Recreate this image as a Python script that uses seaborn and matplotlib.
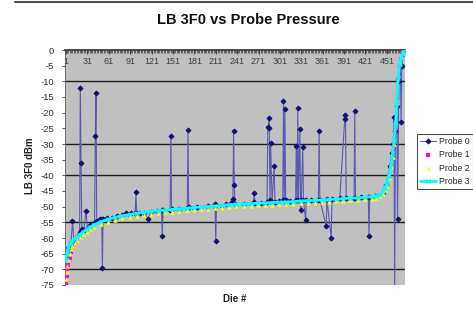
import matplotlib
matplotlib.use("Agg")
import matplotlib.pyplot as plt
from matplotlib.lines import Line2D
from matplotlib.ticker import MultipleLocator
import seaborn as sns
import pandas as pd

# ---------------- data ----------------
title = "LB 3F0 vs Probe Pressure"
x_label = "Die #"
y_label = "LB 3F0 dBm"
series_names = ["Probe 0", "Probe 1", "Probe 2", "Probe 3"]

x_ticks = [1, 31, 61, 91, 121, 151, 181, 211, 241, 271, 301, 331, 361, 391, 421, 451]
y_ticks = [0, -5, -10, -15, -20, -25, -30, -35, -40, -45, -50, -55, -60, -65, -70, -75]
grid_levels = [-10, -30, -40, -55, -70]

curve_dies = [1, 2, 3, 4, 6, 8, 10, 13, 16, 20, 25, 30, 35, 40, 50, 60, 70, 80, 90, 100,
              110, 120, 130, 140, 150, 160, 170, 180, 190, 200, 210, 220, 230, 240, 250,
              260, 270, 280, 290, 300, 310, 320, 330, 340, 350, 360, 370, 380, 390, 400,
              410, 420, 430, 436, 441, 445, 448, 451, 454, 457, 459, 461, 463, 465, 467,
              469, 471, 473, 475]

probe1 = [-74.5, -72, -70, -68.5, -66.5, -64.5, -63, -61.8, -60.5, -59.5, -58.5, -57.6, -56.8,
          -56, -55, -54.2, -53.6, -53.1, -52.7, -52.3, -52, -51.7, -51.5, -51.3, -51.1, -50.9,
          -50.7, -50.5, -50.3, -50.2, -50, -49.8, -49.6, -49.4, -49.3, -49.2, -49.1, -49, -48.9,
          -48.8, -48.7, -48.6, -48.4, -48.3, -48.2, -48.1, -47.9, -47.8, -47.6, -47.5, -47.4,
          -47.2, -47, -46.8, -46.4, -45.6, -44.5, -43, -40.5, -36.6, -34.5, -31, -26, -18, -9.7,
          -5, -3, -1.5, -0.5]

probe2 = [-73, -71, -69, -67, -65, -63.5, -62.5, -61.5, -60.5, -59.8, -58.8, -58, -57.2, -56.5,
          -55.5, -54.8, -54.2, -53.7, -53.3, -52.9, -52.6, -52.3, -52, -51.8, -51.6, -51.4,
          -51.2, -51, -50.8, -50.7, -50.5, -50.3, -50.1, -49.9, -49.8, -49.7, -49.6, -49.5,
          -49.4, -49.3, -49.2, -49.1, -48.9, -48.8, -48.7, -48.6, -48.4, -48.3, -48.1, -48,
          -47.9, -47.7, -47.5, -47.2, -46.7, -45.8, -44.8, -43.5, -41, -37, -34, -30, -23, -16,
          -8, -4, -2, -1, -0.5]

probe3 = [-67, -65, -64, -63, -62, -61.5, -61, -60.3, -59.7, -59, -58, -57.2, -56.5, -55.8,
          -54.8, -54, -53.4, -52.9, -52.5, -52.1, -51.8, -51.5, -51.3, -51.1, -50.9, -50.7,
          -50.5, -50.3, -50.1, -50, -49.8, -49.6, -49.4, -49.2, -49.1, -49, -48.9, -48.8, -48.7,
          -48.6, -48.5, -48.4, -48.2, -48.1, -48, -47.9, -47.7, -47.6, -47.4, -47.3, -47.2, -47,
          -46.8, -46.6, -46.2, -45.3, -44, -42.5, -40, -36.5, -33, -29, -24, -17, -9, -4.5,
          -2.5, -1.2, -0.3]

probe0_dies = [1, 3, 5, 8, 10, 12, 15, 18, 20, 21, 22, 23, 26, 29, 31, 34, 38, 41, 42, 43, 44,
               48, 51, 52, 53, 58, 65, 72, 80, 85, 92, 98, 99, 100, 105, 110, 116, 120, 128,
               135, 136, 137, 147, 148, 149, 160, 171, 172, 173, 185, 200, 210, 211, 212, 225,
               234, 235, 236, 237, 238, 250, 264, 265, 266, 275, 283, 284, 285, 286, 287, 288,
               290, 293, 294, 300, 305, 306, 307, 308, 309, 315, 323, 324, 325, 326, 327, 329,
               330, 331, 333, 334, 337, 338, 345, 355, 356, 357, 366, 367, 373, 374, 385, 392,
               393, 394, 405, 406, 407, 415, 425, 426, 427, 435, 445, 450, 455, 458, 460, 461,
               462, 463, 465, 466, 468, 470, 471, 472, 474]
probe0 = [-66, -63.5, -63, -61.5, -54.5, -61, -60, -59.5, -58, -12.2, -36, -57, -57.5, -51.3,
          -57, -56, -55.5, -55, -27.4, -13.8, -54.5, -54, -54, -69.6, -54, -53.5, -53.5, -53,
          -52.5, -52, -52, -52, -45.4, -52, -52, -52, -53.8, -51.8, -51.5, -51, -59.5, -51,
          -51, -27.6, -50.8, -50.6, -50.3, -25.6, -50.2, -50, -49.8, -49.3, -61, -49.5, -49.3,
          -48.5, -47.6, -25.9, -43, -49.3, -49, -48.5, -45.5, -48.8, -48.7, -48.5, -24.7, -25,
          -21.7, -48, -29.6, -48.5, -37.1, -48.4, -48.3, -48, -16.3, -48, -18.8, -48, -48.2,
          -48, -30.6, -48, -18.5, -48, -25.3, -51, -48, -31, -47.8, -54.1, -48, -47.9, -47.8,
          -26, -47.8, -56.2, -47.7, -60, -47.5, -47.3, -22, -20.7, -47.2, -47.1, -19.6, -47.1,
          -47, -47, -59.5, -46.8, -46.6, -45.5, -43, -37, -33, -30, -21.3, -78, -26, -18,
          -53.8, -10, -5, -23.1, -5, -1]

# ---------------- figure ----------------
sns.set_theme(style="white")
plt.rcParams["font.family"] = ["Liberation Sans", "DejaVu Sans"]

W, H = 473, 313
fig = plt.figure(figsize=(W / 100, H / 100), dpi=100)
fig.patch.set_facecolor("white")
ax = fig.add_axes([65 / W, 1 - 285 / H, 340 / W, 235 / H])
ax.set_facecolor("#c0c0c0")

for g in grid_levels:
    ax.axhline(g, color="#1e1e1e", lw=1.0, zorder=0.5)

df0 = pd.DataFrame({"die": probe0_dies, "val": probe0})
dfc = pd.DataFrame({"die": curve_dies, "p1": probe1, "p2": probe2, "p3": probe3})

sns.lineplot(data=df0, x="die", y="val", ax=ax, color="#5a5ab4", lw=0.8, marker="D",
             markersize=2.5, markerfacecolor="#10107a", markeredgecolor="#10107a",
             label=series_names[0], zorder=2)
sns.scatterplot(data=dfc, x="die", y="p1", ax=ax, color="#ff00ff", marker="s", s=9,
                linewidth=0, label=series_names[1], zorder=3)
sns.scatterplot(data=dfc, x="die", y="p2", ax=ax, color="#ffff00", marker="^", s=10,
                linewidth=0, label=series_names[2], zorder=4)
sns.lineplot(data=dfc, x="die", y="p3", ax=ax, color="#00ffff", lw=2.0, marker="x",
             markersize=2.5, markeredgewidth=0.8, markeredgecolor="#00ffff",
             markerfacecolor="#00ffff", label=series_names[3], zorder=5)

ax.set_xlim(-0.5, 476.5)
ax.set_ylim(-75, 0)

# x axis at the top (value 0) with labels inside
ax.xaxis.tick_top()
ax.set_xticks(x_ticks)
ax.set_xticklabels([str(t) for t in x_ticks])
ax.xaxis.set_minor_locator(MultipleLocator(2))
ax.tick_params(axis="x", which="major", direction="in", length=3, width=0.6,
               color="#303030", labelsize=6.5, labelcolor="#404040", pad=-11.5,
               top=True, bottom=False, labeltop=True, labelbottom=False)
ax.tick_params(axis="x", which="minor", direction="in", length=2, width=0.5,
               color="#404040", top=True, bottom=False)

ax.set_yticks(y_ticks)
ax.set_yticklabels([str(t) for t in y_ticks])
ax.tick_params(axis="y", direction="out", length=2, width=0.6, color="#404040",
               labelsize=6.8, labelcolor="#303030", pad=6, left=True)

for side in ["right", "bottom"]:
    ax.spines[side].set_visible(False)
ax.spines["top"].set_color("#303030")
ax.spines["top"].set_linewidth(1.2)
ax.spines["left"].set_color("#606060")
ax.spines["left"].set_linewidth(0.6)

ax.set_xlabel("")
ax.set_ylabel("")
fig.text(235 / W, 1 - 299 / H, x_label, ha="center", va="center", fontsize=7,
         fontweight="bold", color="#202020")
fig.text(30 / W, 1 - 166 / H, y_label, ha="center", va="center", rotation=90,
         fontsize=7, fontweight="bold", color="#202020")
fig.text(248 / W, 1 - 20 / H, title, ha="center", va="center", fontsize=10.5,
         fontweight="bold", color="#101010")

fig.add_artist(Line2D([15 / W, 1.0], [1 - 2 / H, 1 - 2 / H], transform=fig.transFigure,
                      color="#505050", lw=1.5))

handles, labels = ax.get_legend_handles_labels()
if ax.legend_:
    ax.legend_.remove()
leg = fig.legend(handles, labels, loc="upper left", bbox_to_anchor=(417 / W, 1 - 134 / H),
                 frameon=True, fancybox=False, fontsize=6.2, handlelength=1.9,
                 handletextpad=0.35, labelspacing=0.5, borderpad=0.35, borderaxespad=0)
leg.get_frame().set_edgecolor("#202020")
leg.get_frame().set_linewidth(0.8)

fig.savefig("out.png", dpi=100)
